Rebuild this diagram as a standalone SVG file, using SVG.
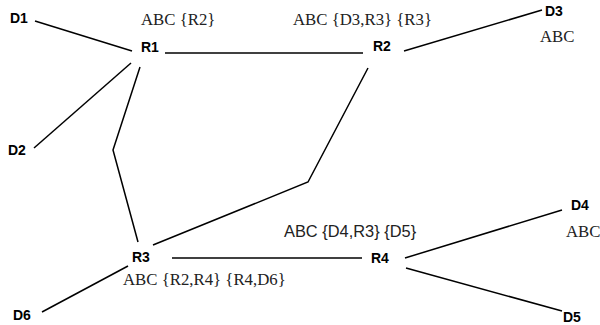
<svg xmlns="http://www.w3.org/2000/svg" width="600" height="325" viewBox="0 0 600 325">
  <style>
    .lbl { font-family: "Liberation Sans", Arial, sans-serif; font-weight: bold; font-size: 14px; fill: #000; }
    .tbl { font-family: "Liberation Serif", "Times New Roman", serif; font-size: 16.8px; fill: #222; }
    .tbls { font-family: "Liberation Sans", Arial, sans-serif; font-size: 16.4px; fill: #222; }
    .link { fill: none; stroke: #000; stroke-width: 1.5; }
  </style>
  <rect width="600" height="325" fill="#fff"/>

  <g id="connectors">
    <line class="link" x1="35" y1="21" x2="132" y2="51"/>
    <line class="link" x1="165" y1="53" x2="363" y2="53"/>
    <line class="link" x1="131" y1="63" x2="34" y2="148"/>
    <polyline class="link" points="140,67 113,150 138,242"/>
    <polyline class="link" points="153,245 308,182 368,68"/>
    <line class="link" x1="404" y1="51" x2="542" y2="10"/>
    <line class="link" x1="172" y1="258" x2="362" y2="258"/>
    <line class="link" x1="405" y1="258" x2="562" y2="210"/>
    <line class="link" x1="406" y1="268" x2="562" y2="311"/>
    <line class="link" x1="128" y1="266" x2="42" y2="312"/>
  </g>

  <g id="D1"><text class="lbl" x="10" y="23">D1</text></g>
  <g id="D2"><text class="lbl" x="8" y="155">D2</text></g>
  <g id="D3">
    <text class="lbl" x="545" y="16">D3</text>
    <text class="tbl" x="540" y="42">ABC</text>
  </g>
  <g id="D4">
    <text class="lbl" x="571" y="210">D4</text>
    <text class="tbl" x="566" y="237">ABC</text>
  </g>
  <g id="D5"><text class="lbl" x="563" y="322">D5</text></g>
  <g id="D6"><text class="lbl" x="13" y="320">D6</text></g>

  <g id="R1">
    <text class="lbl" x="141" y="52">R1</text>
    <text class="tbl" x="141" y="25">ABC {R2}</text>
  </g>
  <g id="R2">
    <text class="lbl" x="373" y="51">R2</text>
    <text class="tbl" x="293" y="25">ABC {D3,R3} {R3}</text>
  </g>
  <g id="R3">
    <text class="lbl" x="132" y="262">R3</text>
    <text class="tbl" x="123" y="285">ABC {R2,R4} {R4,D6}</text>
  </g>
  <g id="R4">
    <text class="lbl" x="371" y="263">R4</text>
    <text class="tbls" x="284" y="237">ABC {D4,R3} {D5}</text>
  </g>
</svg>
